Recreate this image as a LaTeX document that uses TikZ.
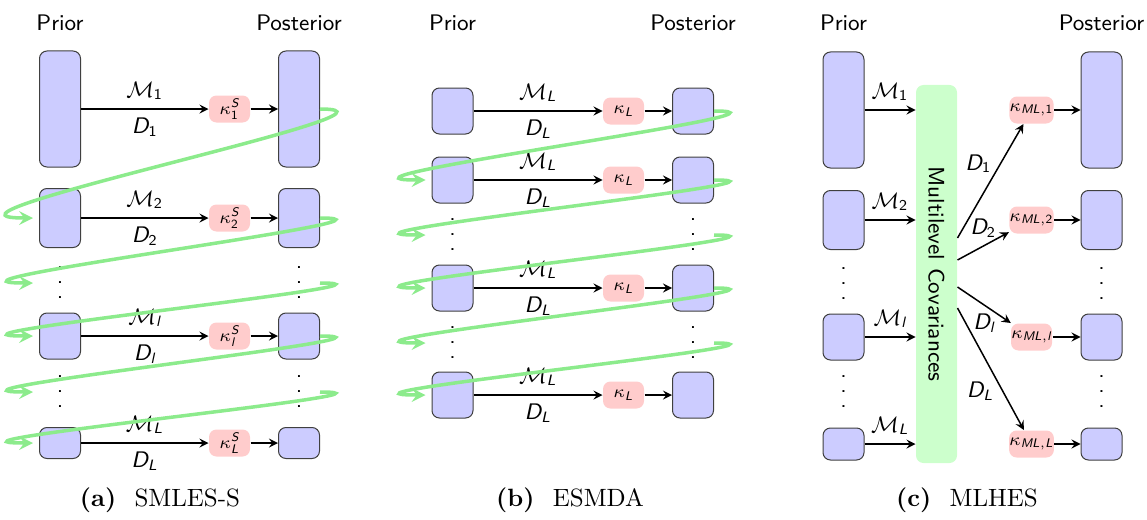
\documentclass[tikz,border=0pt]{standalone}
\usepackage{amsmath}

\definecolor{sweepgreen}{RGB}{140,235,140}
\newcommand{\stackdots}{\vbox{\baselineskip=6pt\lineskiplimit=0pt\hbox{.}\hbox{.}\hbox{.}}}
\newcommand{\si}[1]{\textit{#1}}
\newcommand{\su}[1]{\textup{#1}}

\tikzset{
  ens/.style={draw=black!75,fill=blue!20,rounded corners=3pt,minimum width=16.4pt,inner sep=0pt},
  gain/.style={fill=red!20,rounded corners=3pt,minimum width=16.4pt,minimum height=10.8pt,inner sep=0pt,font=\sffamily\scriptsize},
  gapdots/.style={minimum width=16.4pt,inner sep=0pt},
  cov/.style={fill=green!20,rounded corners=3pt,minimum width=16.4pt,minimum height=151.2pt},
  flow/.style={->,semithick},
  sweep/.style={->,draw=sweepgreen,line width=1.4pt,shorten >=2.4pt,out=0,in=180,out looseness=1,in looseness=1.2},
  subcap/.style={font=\rmfamily\fontsize{10}{12}\selectfont}
}

\begin{document}
\begin{tikzpicture}[x=0.4pt,y=-0.4pt,>=stealth,font=\sffamily\fontsize{9}{11}\selectfont]
\useasboundingbox (0,0) rectangle (1147,520);

% (a) SMLES-S
\node (aprior) at ( 60  ,23) {Prior};
\node (apost)  at (299  ,23) {Posterior};
\node[ens,minimum height=46.4pt] (a1p) at ( 60  ,109) {};
\node[gain]                      (a1k) at (229.5,109) {$\kappa^{\si{S}}_{\su{1}}$};
\node[ens,minimum height=46.4pt] (a1q) at (299  ,109) {};
\node[ens,minimum height=23.6pt] (a2p) at ( 60  ,218) {};
\node[gain]                      (a2k) at (229.5,218) {$\kappa^{\si{S}}_{\su{2}}$};
\node[ens,minimum height=23.6pt] (a2q) at (299  ,218) {};
\node[gapdots] (ad1p) at ( 60,283) {\stackdots};
\node[gapdots] (ad1q) at (299,283) {\stackdots};
\node[ens,minimum height=18.4pt] (alp) at ( 60  ,336) {};
\node[gain]                      (alk) at (229.5,336) {$\kappa^{\si{S}}_{\si{l}}$};
\node[ens,minimum height=18.4pt] (alq) at (299  ,336) {};
\node[gapdots] (ad2p) at ( 60,392) {\stackdots};
\node[gapdots] (ad2q) at (299,392) {\stackdots};
\node[ens,minimum height=12.4pt] (aLp) at ( 60  ,443) {};
\node[gain]                      (aLk) at (229.5,443) {$\kappa^{\si{S}}_{\si{L}}$};
\node[ens,minimum height=12.4pt] (aLq) at (299  ,443) {};
\draw[flow] (a1p) -- node[above] {$\mathcal{M}_{\su{1}}$} node[below] {$\si{D}_{\su{1}}$} (a1k);
\draw[flow] (a2p) -- node[above] {$\mathcal{M}_{\su{2}}$} node[below] {$\si{D}_{\su{2}}$} (a2k);
\draw[flow] (alp) -- node[above] {$\mathcal{M}_{\si{l}}$} node[below] {$\si{D}_{\si{l}}$} (alk);
\draw[flow] (aLp) -- node[above] {$\mathcal{M}_{\si{L}}$} node[below] {$\si{D}_{\si{L}}$} (aLk);
\draw[flow] (a1k) -- (a1q);
\draw[flow] (a2k) -- (a2q);
\draw[flow] (alk) -- (alq);
\draw[flow] (aLk) -- (aLq);
\draw[sweep] (a1q)  to (a2p);
\draw[sweep] (a2q)  to (ad1p);
\draw[sweep] (ad1q) to (alp);
\draw[sweep] (alq)  to (ad2p);
\draw[sweep] (ad2q) to (aLp);
\node[subcap] (capa) at (160,500) {\textbf{(a)}\hspace{4pt} SMLES-S};

% (b) ESMDA
\node (bprior) at (452.5,23) {Prior};
\node (bpost)  at (693  ,23) {Posterior};
\node[ens,minimum height=18.4pt] (b1p) at (452.5,111) {};
\node[gain]                      (b1k) at (623.5,111) {$\kappa_{\si{L}}$};
\node[ens,minimum height=18.4pt] (b1q) at (693  ,111) {};
\node[ens,minimum height=18.4pt] (b2p) at (452.5,180) {};
\node[gain]                      (b2k) at (623.5,180) {$\kappa_{\si{L}}$};
\node[ens,minimum height=18.4pt] (b2q) at (693  ,180) {};
\node[gapdots] (bd1p) at (452.5,235) {\stackdots};
\node[gapdots] (bd1q) at (693  ,235) {\stackdots};
\node[ens,minimum height=18.4pt] (b3p) at (452.5,288) {};
\node[gain]                      (b3k) at (623.5,288) {$\kappa_{\si{L}}$};
\node[ens,minimum height=18.4pt] (b3q) at (693  ,288) {};
\node[gapdots] (bd2p) at (452.5,343) {\stackdots};
\node[gapdots] (bd2q) at (693  ,343) {\stackdots};
\node[ens,minimum height=18.4pt] (b4p) at (452.5,395) {};
\node[gain]                      (b4k) at (623.5,395) {$\kappa_{\si{L}}$};
\node[ens,minimum height=18.4pt] (b4q) at (693  ,395) {};
\draw[flow] (b1p) -- node[above] {$\mathcal{M}_{\si{L}}$} node[below] {$\si{D}_{\si{L}}$} (b1k);
\draw[flow] (b2p) -- node[above] {$\mathcal{M}_{\si{L}}$} node[below] {$\si{D}_{\si{L}}$} (b2k);
\draw[flow] (b3p) -- node[above] {$\mathcal{M}_{\si{L}}$} node[below] {$\si{D}_{\si{L}}$} (b3k);
\draw[flow] (b4p) -- node[above] {$\mathcal{M}_{\si{L}}$} node[below] {$\si{D}_{\si{L}}$} (b4k);
\draw[flow] (b1k) -- (b1q);
\draw[flow] (b2k) -- (b2q);
\draw[flow] (b3k) -- (b3q);
\draw[flow] (b4k) -- (b4q);
\draw[sweep] (b1q)  to (b2p);
\draw[sweep] (b2q)  to (bd1p);
\draw[sweep] (bd1q) to (b3p);
\draw[sweep] (b3q)  to (bd2p);
\draw[sweep] (bd2q) to (b4p);
\node[subcap] (capb) at (570,500) {\textbf{(b)}\hspace{4pt} ESMDA};

% (c) MLHES
\node (cprior) at ( 843.5,23) {Prior};
\node (cpost)  at (1101.5,23) {Posterior};
\node[cov] (cov) at (936.5,274) {};
\node[rotate=-90] (covtext) at (cov) {Multilevel Covariances};
\node[ens,minimum height=46.4pt] (c1p) at ( 843.5,110) {};
\node[gain]                      (c1k) at (1031.5,110) {$\kappa_{\si{ML},\su{1}}$};
\node[ens,minimum height=46.4pt] (c1q) at (1101.5,110) {};
\node[ens,minimum height=23.6pt] (c2p) at ( 843.5,220) {};
\node[gain]                      (c2k) at (1031.5,220) {$\kappa_{\si{ML},\su{2}}$};
\node[ens,minimum height=23.6pt] (c2q) at (1101.5,220) {};
\node[gapdots] (cd1p) at ( 843.5,284) {\stackdots};
\node[gapdots] (cd1q) at (1101.5,284) {\stackdots};
\node[ens,minimum height=18.4pt] (clp) at ( 843.5,337) {};
\node[gain]                      (clk) at (1031.5,337) {$\kappa_{\si{ML},\si{l}}$};
\node[ens,minimum height=18.4pt] (clq) at (1101.5,337) {};
\node[gapdots] (cd2p) at ( 843.5,392) {\stackdots};
\node[gapdots] (cd2q) at (1101.5,392) {\stackdots};
\node[ens,minimum height=12.8pt] (cLp) at ( 843.5,444) {};
\node[gain]                      (cLk) at (1031.5,444) {$\kappa_{\si{ML},\si{L}}$};
\node[ens,minimum height=12.8pt] (cLq) at (1101.5,444) {};
\coordinate (o1) at ([yshift= 14.4pt]cov.east);
\coordinate (o2) at ([yshift=  5.6pt]cov.east);
\coordinate (o3) at ([yshift= -5.2pt]cov.east);
\coordinate (o4) at ([yshift=-13.6pt]cov.east);
\draw[flow] (c1p) -- node[above] {$\mathcal{M}_{\su{1}}$} (c1p -| cov.west);
\draw[flow] (c2p) -- node[above] {$\mathcal{M}_{\su{2}}$} (c2p -| cov.west);
\draw[flow] (clp) -- node[above] {$\mathcal{M}_{\si{l}}$} (clp -| cov.west);
\draw[flow] (cLp) -- node[above] {$\mathcal{M}_{\si{L}}$} (cLp -| cov.west);
\draw[flow] (o1) -- node[pos=.65,left] {$\si{D}_{\su{1}}$} (c1k);
\draw[flow] (o2) -- node[above]        {$\si{D}_{\su{2}}$} (c2k);
\draw[flow] (o3) -- node[below]        {$\si{D}_{\si{l}}$} (clk);
\draw[flow] (o4) -- node[pos=.68,left] {$\si{D}_{\si{L}}$} (cLk);
\draw[flow] (c1k) -- (c1q);
\draw[flow] (c2k) -- (c2q);
\draw[flow] (clk) -- (clq);
\draw[flow] (cLk) -- (cLq);
\node[subcap] (capc) at (967,500) {\textbf{(c)}\hspace{4pt} MLHES};
\end{tikzpicture}
\end{document}
